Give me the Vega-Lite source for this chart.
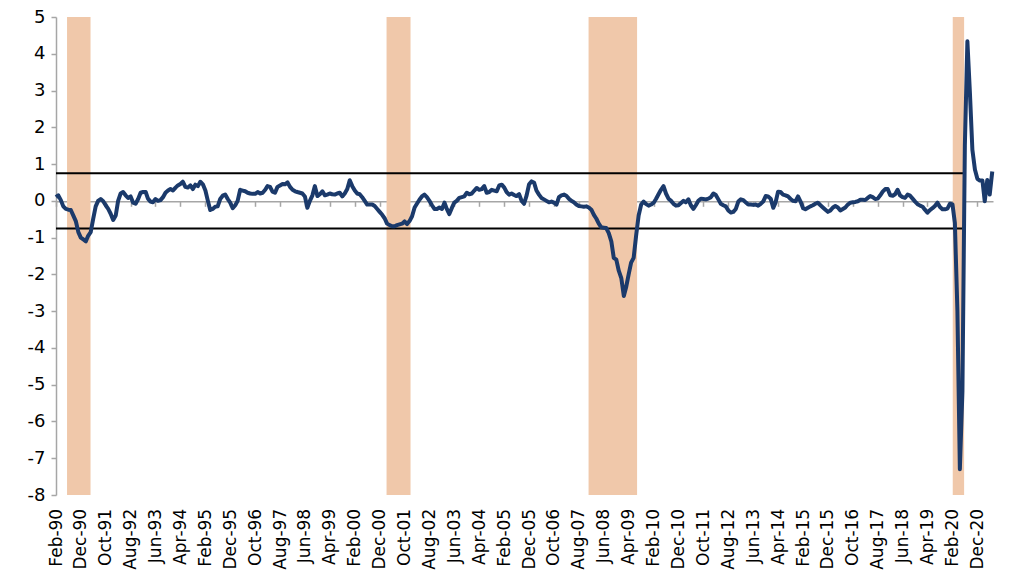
{
"$schema": "https://vega.github.io/schema/vega-lite/v6.json",
"width": 937, "height": 478,
"autosize": {"type": "none"},
"padding": {"left": 56, "top": 17, "right": 34, "bottom": 79},
"background": "white",
"config": {"view": {"stroke": null}, "font": "DejaVu Sans",
 "axisX": {"labelOverlap": false, "labelFlush": false, "labelBound": false, "labelAngle": -90, "labelAlign": "right", "labelBaseline": "middle",
  "offset": -293.7, "domainColor": "#a6a6a6", "domainWidth": 1.5, "tickColor": "#a6a6a6", "tickSize": 5, "tickWidth": 1.5,
  "labelPadding": 302, "labelFontSize": 17, "labelColor": "#000000", "grid": false, "title": null},
 "axisY": {"labelOverlap": false, "labelFlush": false, "labelBound": false, "grid": false, "title": null,
  "domainColor": "#a6a6a6", "domainWidth": 1.5, "tickColor": "#a6a6a6", "tickSize": 5, "tickWidth": 1.5,
  "labelFontSize": 18, "labelPadding": 6, "labelColor": "#000000"}},
"layer": [
{
"data": {"values": [
{"s":"1990-06-16","e":"1991-03-30"},
{"s":"2001-02-23","e":"2001-12-13"},
{"s":"2007-11-28","e":"2009-07-13"},
{"s":"2020-02-04","e":"2020-06-22"}
], "format": {"parse": {"s": "date:'%Y-%m-%d'", "e": "date:'%Y-%m-%d'"}}},
"mark": {"type": "rect", "color": "#f0c8aa"},
"encoding": {
"x": {"field": "s", "type": "temporal",
 "scale": {"domain": [{"year":1990,"month":2,"date":1},{"year":2021,"month":6,"date":10}]},
 "axis": {"title": null, "labelOverlap": false, "tickCount": 200,
  "values": [{"year":1990,"month":2},{"year":1990,"month":12},{"year":1991,"month":10},{"year":1992,"month":8},{"year":1993,"month":6},{"year":1994,"month":4},{"year":1995,"month":2},{"year":1995,"month":12},{"year":1996,"month":10},{"year":1997,"month":8},{"year":1998,"month":6},{"year":1999,"month":4},{"year":2000,"month":2},{"year":2000,"month":12},{"year":2001,"month":10},{"year":2002,"month":8},{"year":2003,"month":6},{"year":2004,"month":4},{"year":2005,"month":2},{"year":2005,"month":12},{"year":2006,"month":10},{"year":2007,"month":8},{"year":2008,"month":6},{"year":2009,"month":4},{"year":2010,"month":2},{"year":2010,"month":12},{"year":2011,"month":10},{"year":2012,"month":8},{"year":2013,"month":6},{"year":2014,"month":4},{"year":2015,"month":2},{"year":2015,"month":12},{"year":2016,"month":10},{"year":2017,"month":8},{"year":2018,"month":6},{"year":2019,"month":4},{"year":2020,"month":2},{"year":2020,"month":12}],
  "format": "%b-%y"}},
"x2": {"field": "e"},
"y": {"datum": 5, "type": "quantitative",
 "scale": {"domain": [-8, 5], "nice": false, "zero": false},
 "axis": {"title": null, "labelOverlap": false, "tickCount": 100, "values": [-8,-7,-6,-5,-4,-3,-2,-1,0,1,2,3,4,5],
  "labelExpr": "datum.value < 0 ? '-' + abs(datum.value) : '' + datum.value"}},
"y2": {"datum": -8}
}
},
{
"data": {"values": [{"y": 0.75}, {"y": -0.75}]},
"mark": {"type": "rule", "color": "#000000", "strokeWidth": 2},
"encoding": {
"x": {"datum": {"year":1990,"month":2,"date":1}, "type": "temporal", "scale": {"domain": [{"year":1990,"month":2,"date":1},{"year":2021,"month":6,"date":10}]}, "axis": {"title": null, "labelOverlap": false}},
"x2": {"datum": {"year":2020,"month":6,"date":16}},
"y": {"field": "y", "type": "quantitative", "axis": {"title": null, "labelOverlap": false}}
}
},
{
"data": {"values": [
{"d":"1990-02","v":0.10},{"d":"1990-03","v":0.15},{"d":"1990-04","v":0.02},{"d":"1990-05","v":-0.15},{"d":"1990-06","v":-0.22},{"d":"1990-07","v":-0.24},{"d":"1990-08","v":-0.25},{"d":"1990-09","v":-0.40},{"d":"1990-10","v":-0.55},{"d":"1990-11","v":-0.85},{"d":"1990-12","v":-1.00},
{"d":"1991-01","v":-1.05},{"d":"1991-02","v":-1.10},{"d":"1991-03","v":-0.95},{"d":"1991-04","v":-0.85},{"d":"1991-05","v":-0.50},{"d":"1991-06","v":-0.15},{"d":"1991-07","v":0.00},{"d":"1991-08","v":0.05},{"d":"1991-09","v":-0.01},{"d":"1991-10","v":-0.12},{"d":"1991-11","v":-0.22},{"d":"1991-12","v":-0.35},
{"d":"1992-01","v":-0.52},{"d":"1992-02","v":-0.40},{"d":"1992-03","v":0.00},{"d":"1992-04","v":0.20},{"d":"1992-05","v":0.24},{"d":"1992-06","v":0.15},{"d":"1992-07","v":0.08},{"d":"1992-08","v":0.12},{"d":"1992-09","v":-0.05},{"d":"1992-10","v":-0.08},{"d":"1992-11","v":0.05},{"d":"1992-12","v":0.22},
{"d":"1993-01","v":0.24},{"d":"1993-02","v":0.24},{"d":"1993-03","v":0.06},{"d":"1993-04","v":-0.02},{"d":"1993-05","v":-0.04},{"d":"1993-06","v":0.05},{"d":"1993-07","v":0.00},{"d":"1993-08","v":0.02},{"d":"1993-09","v":0.10},{"d":"1993-10","v":0.22},{"d":"1993-11","v":0.28},{"d":"1993-12","v":0.32},
{"d":"1994-01","v":0.28},{"d":"1994-02","v":0.36},{"d":"1994-03","v":0.42},{"d":"1994-04","v":0.46},{"d":"1994-05","v":0.52},{"d":"1994-06","v":0.38},{"d":"1994-07","v":0.36},{"d":"1994-08","v":0.42},{"d":"1994-09","v":0.32},{"d":"1994-10","v":0.44},{"d":"1994-11","v":0.40},{"d":"1994-12","v":0.52},
{"d":"1995-01","v":0.45},{"d":"1995-02","v":0.28},{"d":"1995-03","v":0.02},{"d":"1995-04","v":-0.25},{"d":"1995-05","v":-0.22},{"d":"1995-06","v":-0.16},{"d":"1995-07","v":-0.15},{"d":"1995-08","v":0.05},{"d":"1995-09","v":0.14},{"d":"1995-10","v":0.17},{"d":"1995-11","v":0.05},{"d":"1995-12","v":-0.05},
{"d":"1996-01","v":-0.20},{"d":"1996-02","v":-0.12},{"d":"1996-03","v":0.00},{"d":"1996-04","v":0.30},{"d":"1996-05","v":0.28},{"d":"1996-06","v":0.26},{"d":"1996-07","v":0.22},{"d":"1996-08","v":0.20},{"d":"1996-09","v":0.19},{"d":"1996-10","v":0.19},{"d":"1996-11","v":0.24},{"d":"1996-12","v":0.20},
{"d":"1997-01","v":0.22},{"d":"1997-02","v":0.30},{"d":"1997-03","v":0.40},{"d":"1997-04","v":0.38},{"d":"1997-05","v":0.25},{"d":"1997-06","v":0.22},{"d":"1997-07","v":0.38},{"d":"1997-08","v":0.42},{"d":"1997-09","v":0.46},{"d":"1997-10","v":0.45},{"d":"1997-11","v":0.50},{"d":"1997-12","v":0.38},
{"d":"1998-01","v":0.30},{"d":"1998-02","v":0.26},{"d":"1998-03","v":0.24},{"d":"1998-04","v":0.22},{"d":"1998-05","v":0.20},{"d":"1998-06","v":0.12},{"d":"1998-07","v":-0.19},{"d":"1998-08","v":0.00},{"d":"1998-09","v":0.15},{"d":"1998-10","v":0.40},{"d":"1998-11","v":0.13},{"d":"1998-12","v":0.18},
{"d":"1999-01","v":0.26},{"d":"1999-02","v":0.15},{"d":"1999-03","v":0.17},{"d":"1999-04","v":0.20},{"d":"1999-05","v":0.18},{"d":"1999-06","v":0.17},{"d":"1999-07","v":0.20},{"d":"1999-08","v":0.22},{"d":"1999-09","v":0.12},{"d":"1999-10","v":0.20},{"d":"1999-11","v":0.32},{"d":"1999-12","v":0.56},
{"d":"2000-01","v":0.40},{"d":"2000-02","v":0.28},{"d":"2000-03","v":0.20},{"d":"2000-04","v":0.18},{"d":"2000-05","v":0.10},{"d":"2000-06","v":0.00},{"d":"2000-07","v":-0.10},{"d":"2000-08","v":-0.10},{"d":"2000-09","v":-0.10},{"d":"2000-10","v":-0.14},{"d":"2000-11","v":-0.22},{"d":"2000-12","v":-0.30},
{"d":"2001-01","v":-0.38},{"d":"2001-02","v":-0.48},{"d":"2001-03","v":-0.62},{"d":"2001-04","v":-0.66},{"d":"2001-05","v":-0.69},{"d":"2001-06","v":-0.69},{"d":"2001-07","v":-0.66},{"d":"2001-08","v":-0.64},{"d":"2001-09","v":-0.62},{"d":"2001-10","v":-0.56},{"d":"2001-11","v":-0.63},{"d":"2001-12","v":-0.55},
{"d":"2002-01","v":-0.42},{"d":"2002-02","v":-0.18},{"d":"2002-03","v":-0.08},{"d":"2002-04","v":0.03},{"d":"2002-05","v":0.12},{"d":"2002-06","v":0.17},{"d":"2002-07","v":0.10},{"d":"2002-08","v":0.00},{"d":"2002-09","v":-0.12},{"d":"2002-10","v":-0.22},{"d":"2002-11","v":-0.22},{"d":"2002-12","v":-0.18},
{"d":"2003-01","v":-0.22},{"d":"2003-02","v":-0.05},{"d":"2003-03","v":-0.22},{"d":"2003-04","v":-0.36},{"d":"2003-05","v":-0.20},{"d":"2003-06","v":-0.05},{"d":"2003-07","v":0.00},{"d":"2003-08","v":0.08},{"d":"2003-09","v":0.10},{"d":"2003-10","v":0.12},{"d":"2003-11","v":0.22},{"d":"2003-12","v":0.18},
{"d":"2004-01","v":0.20},{"d":"2004-02","v":0.28},{"d":"2004-03","v":0.35},{"d":"2004-04","v":0.30},{"d":"2004-05","v":0.32},{"d":"2004-06","v":0.40},{"d":"2004-07","v":0.22},{"d":"2004-08","v":0.24},{"d":"2004-09","v":0.30},{"d":"2004-10","v":0.28},{"d":"2004-11","v":0.26},{"d":"2004-12","v":0.42},
{"d":"2005-01","v":0.44},{"d":"2005-02","v":0.36},{"d":"2005-03","v":0.24},{"d":"2005-04","v":0.17},{"d":"2005-05","v":0.20},{"d":"2005-06","v":0.16},{"d":"2005-07","v":0.13},{"d":"2005-08","v":0.18},{"d":"2005-09","v":0.00},{"d":"2005-10","v":-0.08},{"d":"2005-11","v":0.15},{"d":"2005-12","v":0.45},
{"d":"2006-01","v":0.53},{"d":"2006-02","v":0.49},{"d":"2006-03","v":0.28},{"d":"2006-04","v":0.17},{"d":"2006-05","v":0.08},{"d":"2006-06","v":0.04},{"d":"2006-07","v":0.00},{"d":"2006-08","v":-0.04},{"d":"2006-09","v":-0.02},{"d":"2006-10","v":-0.05},{"d":"2006-11","v":-0.10},{"d":"2006-12","v":0.10},
{"d":"2007-01","v":0.15},{"d":"2007-02","v":0.17},{"d":"2007-03","v":0.14},{"d":"2007-04","v":0.06},{"d":"2007-05","v":0.00},{"d":"2007-06","v":-0.04},{"d":"2007-07","v":-0.10},{"d":"2007-08","v":-0.14},{"d":"2007-09","v":-0.15},{"d":"2007-10","v":-0.16},{"d":"2007-11","v":-0.15},{"d":"2007-12","v":-0.18},
{"d":"2008-01","v":-0.24},{"d":"2008-02","v":-0.38},{"d":"2008-03","v":-0.48},{"d":"2008-04","v":-0.62},{"d":"2008-05","v":-0.72},{"d":"2008-06","v":-0.73},{"d":"2008-07","v":-0.74},{"d":"2008-08","v":-0.88},{"d":"2008-09","v":-1.10},{"d":"2008-10","v":-1.55},{"d":"2008-11","v":-1.60},{"d":"2008-12","v":-1.90},
{"d":"2009-01","v":-2.10},{"d":"2009-02","v":-2.59},{"d":"2009-03","v":-2.35},{"d":"2009-04","v":-2.00},{"d":"2009-05","v":-1.68},{"d":"2009-06","v":-1.55},{"d":"2009-07","v":-0.95},{"d":"2009-08","v":-0.40},{"d":"2009-09","v":-0.10},{"d":"2009-10","v":-0.02},{"d":"2009-11","v":-0.09},{"d":"2009-12","v":-0.13},
{"d":"2010-01","v":-0.10},{"d":"2010-02","v":-0.05},{"d":"2010-03","v":0.05},{"d":"2010-04","v":0.18},{"d":"2010-05","v":0.30},{"d":"2010-06","v":0.40},{"d":"2010-07","v":0.20},{"d":"2010-08","v":0.06},{"d":"2010-09","v":0.00},{"d":"2010-10","v":-0.08},{"d":"2010-11","v":-0.13},{"d":"2010-12","v":-0.12},
{"d":"2011-01","v":-0.06},{"d":"2011-02","v":0.00},{"d":"2011-03","v":-0.04},{"d":"2011-04","v":0.04},{"d":"2011-05","v":-0.12},{"d":"2011-06","v":-0.22},{"d":"2011-07","v":-0.12},{"d":"2011-08","v":0.00},{"d":"2011-09","v":0.06},{"d":"2011-10","v":0.05},{"d":"2011-11","v":0.04},{"d":"2011-12","v":0.06},
{"d":"2012-01","v":0.10},{"d":"2012-02","v":0.20},{"d":"2012-03","v":0.16},{"d":"2012-04","v":0.04},{"d":"2012-05","v":-0.08},{"d":"2012-06","v":-0.12},{"d":"2012-07","v":-0.15},{"d":"2012-08","v":-0.26},{"d":"2012-09","v":-0.32},{"d":"2012-10","v":-0.30},{"d":"2012-11","v":-0.22},{"d":"2012-12","v":-0.02},
{"d":"2013-01","v":0.04},{"d":"2013-02","v":0.02},{"d":"2013-03","v":-0.04},{"d":"2013-04","v":-0.10},{"d":"2013-05","v":-0.10},{"d":"2013-06","v":-0.11},{"d":"2013-07","v":-0.10},{"d":"2013-08","v":-0.13},{"d":"2013-09","v":-0.08},{"d":"2013-10","v":-0.02},{"d":"2013-11","v":0.13},{"d":"2013-12","v":0.12},
{"d":"2014-01","v":0.06},{"d":"2014-02","v":-0.19},{"d":"2014-03","v":-0.05},{"d":"2014-04","v":0.25},{"d":"2014-05","v":0.24},{"d":"2014-06","v":0.17},{"d":"2014-07","v":0.15},{"d":"2014-08","v":0.12},{"d":"2014-09","v":0.05},{"d":"2014-10","v":0.00},{"d":"2014-11","v":-0.01},{"d":"2014-12","v":0.12},
{"d":"2015-01","v":-0.02},{"d":"2015-02","v":-0.20},{"d":"2015-03","v":-0.23},{"d":"2015-04","v":-0.19},{"d":"2015-05","v":-0.15},{"d":"2015-06","v":-0.12},{"d":"2015-07","v":-0.08},{"d":"2015-08","v":-0.05},{"d":"2015-09","v":-0.12},{"d":"2015-10","v":-0.18},{"d":"2015-11","v":-0.24},{"d":"2015-12","v":-0.30},
{"d":"2016-01","v":-0.26},{"d":"2016-02","v":-0.18},{"d":"2016-03","v":-0.14},{"d":"2016-04","v":-0.18},{"d":"2016-05","v":-0.26},{"d":"2016-06","v":-0.22},{"d":"2016-07","v":-0.18},{"d":"2016-08","v":-0.10},{"d":"2016-09","v":-0.05},{"d":"2016-10","v":-0.04},{"d":"2016-11","v":-0.03},{"d":"2016-12","v":-0.01},
{"d":"2017-01","v":0.03},{"d":"2017-02","v":0.03},{"d":"2017-03","v":0.02},{"d":"2017-04","v":0.08},{"d":"2017-05","v":0.13},{"d":"2017-06","v":0.10},{"d":"2017-07","v":0.05},{"d":"2017-08","v":0.06},{"d":"2017-09","v":0.15},{"d":"2017-10","v":0.25},{"d":"2017-11","v":0.32},{"d":"2017-12","v":0.32},
{"d":"2018-01","v":0.15},{"d":"2018-02","v":0.14},{"d":"2018-03","v":0.18},{"d":"2018-04","v":0.30},{"d":"2018-05","v":0.15},{"d":"2018-06","v":0.10},{"d":"2018-07","v":0.08},{"d":"2018-08","v":0.17},{"d":"2018-09","v":0.14},{"d":"2018-10","v":0.06},{"d":"2018-11","v":-0.02},{"d":"2018-12","v":-0.09},
{"d":"2019-01","v":-0.13},{"d":"2019-02","v":-0.16},{"d":"2019-03","v":-0.24},{"d":"2019-04","v":-0.32},{"d":"2019-05","v":-0.25},{"d":"2019-06","v":-0.20},{"d":"2019-07","v":-0.14},{"d":"2019-08","v":-0.05},{"d":"2019-09","v":-0.17},{"d":"2019-10","v":-0.23},{"d":"2019-11","v":-0.23},{"d":"2019-12","v":-0.21},
{"d":"2020-01","v":-0.08},{"d":"2020-02","v":-0.10},{"d":"2020-03","v":-0.60},{"d":"2020-04","v":-3.00},{"d":"2020-05","v":-7.30},{"d":"2020-06","v":-5.20},{"d":"2020-07","v":1.50},{"d":"2020-08","v":4.34},{"d":"2020-09","v":2.93},{"d":"2020-10","v":1.39},{"d":"2020-11","v":0.85},{"d":"2020-12","v":0.60},
{"d":"2021-01","v":0.55},{"d":"2021-02","v":0.55},{"d":"2021-03","v":-0.01},{"d":"2021-04","v":0.57},{"d":"2021-05","v":0.17},{"d":"2021-06","v":0.80}
], "format": {"parse": {"d": "date:'%Y-%m'"}}},
"mark": {"type": "line", "color": "#1b3a6b", "strokeWidth": 4, "strokeJoin": "round"},
"encoding": {
"x": {"field": "d", "type": "temporal", "scale": {"domain": [{"year":1990,"month":2,"date":1},{"year":2021,"month":6,"date":10}]}, "axis": {"title": null, "labelOverlap": false}},
"y": {"field": "v", "type": "quantitative", "axis": {"title": null, "labelOverlap": false}}
}
}
]
}
